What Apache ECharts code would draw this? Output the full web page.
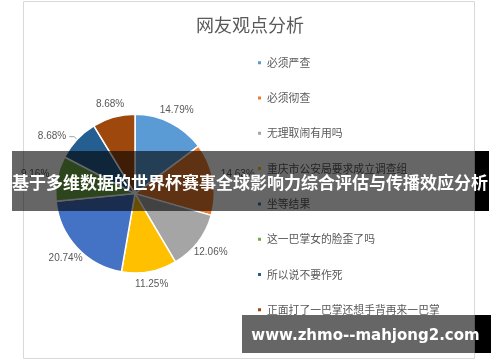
<!DOCTYPE html>
<html lang="zh">
<head>
<meta charset="UTF-8">
<title>网友观点分析</title>
<script src="https://cdn.jsdelivr.net/npm/echarts@6/dist/echarts.min.js"></script>
<style>
  html, body { margin: 0; padding: 0; background: #fff; }
  #chart { width: 500px; height: 362px; }
</style>
</head>
<body>
<div id="chart"></div>
<script>
// 数据
const categories = ['必须严查', '必须彻查', '无理取闹有用吗', '重庆市公安局要求成立调查组', '坐等结果', '这一巴掌女的脸歪了吗', '所以说不要作死', '正面打了一巴掌还想手背再来一巴掌']
const shares = [14.79, 14.63, 12.06, 11.25, 20.74, 9.16, 8.68, 8.68]
const colors = ['#5B9BD5', '#ED7D31', '#A5A5A5', '#FFC000', '#4472C4', '#70AD47', '#255E91', '#9E480E']
const titleText = '网友观点分析'
const bannerText = '基于多维数据的世界杯赛事全球影响力综合评估与传播效应分析'
const watermarkText = 'www.zhmo--mahjong2.com'
const leaderLineIndex = 6  // 只有这一块带引导线

const cjk = '"Noto Sans CJK SC", sans-serif'

const pieData = shares.map((v, i) => {
  const item = { name: categories[i], value: v }
  if (i === leaderLineIndex) {
    item.labelLine = { length: 4, length2: 5, lineStyle: { opacity: 1 } }
  }
  return item
})

// 标签放在锚点外侧，框边贴着锚点（类似 Excel 的数据标签）
function placeLabel(p) {
  const pts = p.labelLinePoints
  if (!pts || p.dataIndex === leaderLineIndex) return {}
  const dx = pts[1][0] - pts[0][0]
  const dy = pts[1][1] - pts[0][1]
  const len = Math.hypot(dx, dy) || 1
  const ux = dx / len, uy = dy / len
  const hw = p.labelRect.width / 2, hh = p.labelRect.height / 2
  const d = Math.min(Math.abs(ux) > 1e-6 ? hw / Math.abs(ux) : 1e9, Math.abs(uy) > 1e-6 ? hh / Math.abs(uy) : 1e9)
  return {
    x: pts[1][0] + ux * d,
    y: pts[1][1] + uy * d,
    align: 'center',
    verticalAlign: 'middle'
  }
}

const option = {
  animation: false,
  color: colors,
  title: {
    text: titleText,
    left: 'center',
    top: 11,
    textStyle: { fontFamily: cjk, fontSize: 18, fontWeight: 'normal', color: '#595959' }
  },
  legend: {
    orient: 'vertical',
    left: 256,
    top: 55.7,
    padding: 0,
    icon: 'rect',
    itemWidth: 5,
    itemHeight: 5,
    itemGap: 21.3,
    selectedMode: false,
    data: categories,
    textStyle: { fontFamily: cjk, fontSize: 10.8, lineHeight: 14, color: '#595959' }
  },
  series: [{
    type: 'pie',
    center: [135, 193.6],
    radius: 79.3,
    startAngle: 90,
    clockwise: true,
    avoidLabelOverlap: false,
    itemStyle: { borderColor: '#fff', borderWidth: 1.5 },
    label: {
      show: true,
      position: 'outside',
      distanceToLabelLine: 3,
      fontFamily: '"Liberation Sans", Arial, sans-serif',
      fontSize: 10,
      color: '#595959',
      formatter: p => p.value.toFixed(2) + '%'
    },
    labelLine: {
      show: true,
      length: 8,
      length2: 0,
      smooth: false,
      lineStyle: { color: '#a6a6a6', width: 1, opacity: 0 }
    },
    labelLayout: placeLabel,
    emphasis: { disabled: true },
    data: pieData
  }],
  graphic: [
    // 图表区外框
    { type: 'rect', z: -10, shape: { x: 23.5, y: 1.5, width: 451, height: 357 },
      style: { fill: '#fff', stroke: '#d9d9d9', lineWidth: 1 } },
    // 标题横幅
    { type: 'rect', z: 100, shape: { x: 12, y: 151, width: 463, height: 60 },
      style: { fill: 'rgba(0,0,0,0.6)' } },
    { type: 'rect', z: 100, shape: { x: 475, y: 151, width: 14, height: 60 },
      style: { fill: '#000' } },
    { type: 'text', z: 101, x: 250, y: 183,
      style: { text: bannerText, fill: '#fff', font: 'bold 17px "Noto Sans CJK SC", sans-serif',
        align: 'center', verticalAlign: 'middle' } },
    // 水印
    { type: 'rect', z: 100, shape: { x: 242, y: 315, width: 233, height: 38 },
      style: { fill: 'rgba(0,0,0,0.6)' } },
    { type: 'rect', z: 100, shape: { x: 475, y: 315, width: 16, height: 38 },
      style: { fill: '#000' } },
    { type: 'text', z: 101, x: 365.5, y: 336,
      style: { text: watermarkText, fill: '#fff', font: 'bold 15px "DejaVu Sans", sans-serif',
        align: 'center', verticalAlign: 'middle' } }
  ]
}

const chart = echarts.init(document.getElementById('chart'))
chart.setOption(option)
</script>
</body>
</html>
